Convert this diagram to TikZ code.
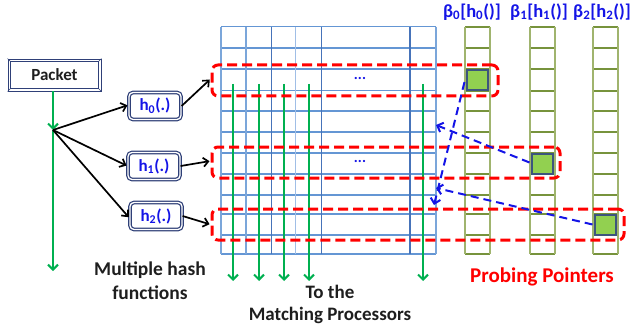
\documentclass[tikz,border=0pt]{standalone}
\usepackage{fontspec}
\setmainfont{Carlito}
\usetikzlibrary{arrows.meta}
\definecolor{navy}{RGB}{47,64,120}
\definecolor{gridblue}{RGB}{100,150,212}
\definecolor{griddark}{RGB}{70,115,185}
\definecolor{gridlight}{RGB}{160,190,230}
\definecolor{olive}{RGB}{119,147,60}
\definecolor{olivelt}{RGB}{160,180,110}
\definecolor{cellgreen}{RGB}{146,208,80}
\definecolor{cellborder}{RGB}{60,85,125}
\definecolor{arrgreen}{RGB}{0,176,80}
\definecolor{txtblue}{RGB}{20,20,230}
\definecolor{pred}{RGB}{255,0,0}
\definecolor{txtdark}{RGB}{30,30,30}
\begin{document}
\begin{tikzpicture}[x=1pt,y=-1pt,
  hbox/.style={draw=navy, line width=1.2pt, double=white, double distance=1.3pt,
    rounded corners=4pt, minimum width=52pt, minimum height=27pt, inner sep=0pt,
    text=txtblue, font=\fontsize{17}{19}\selectfont\bfseries},
  pktbox/.style={draw=navy, line width=0.9pt, minimum width=93pt, minimum height=32pt,
    inner sep=0pt, text=txtdark, font=\fontsize{17}{19}\selectfont\bfseries},
  blk/.style={draw=black, line width=1.7pt, shorten >=1pt,
    -{Straight Barb[length=5pt,width=9pt,line width=1.7pt]}},
  garr/.style={draw=arrgreen, line width=2pt,
    -{Straight Barb[length=5pt,width=10pt,line width=2pt]}},
  gline/.style={draw=gridblue, line width=1.4pt},
  redbox/.style={draw=pred, line width=3pt, dash pattern=on 10pt off 5pt,
    rounded corners=6pt, inner sep=0pt},
  colh/.style={draw=olive, line width=2pt},
  colv/.style={draw=olivelt, line width=1.8pt},
  cell/.style={draw=cellborder, fill=cellgreen, line width=2pt, minimum width=21pt,
    minimum height=20pt, inner sep=0pt},
  bdash/.style={draw=txtblue, line width=2pt, dash pattern=on 8pt off 5pt,
    -{Straight Barb[length=5pt,width=10pt,line width=2pt]}},
  blab/.style={text=txtblue, font=\fontsize{18.5}{20}\selectfont\bfseries, inner sep=0pt},
  dots/.style={text=txtblue, font=\fontsize{15}{16}\selectfont\bfseries, inner sep=0pt},
  caption/.style={text=txtdark, font=\fontsize{19.5}{24}\selectfont\bfseries, align=center, inner sep=0pt},
  caption2/.style={text=txtdark, font=\fontsize{19}{22}\selectfont\bfseries, align=center, inner sep=0pt},
]
\useasboundingbox (0,0) rectangle (630,329);

% ---------- grid ----------
\foreach \y in {26.7,48,69,90.7,111,132,153,174,195,214,235,254}
  \draw[gline] (221,\y) -- (436,\y);
\foreach \x in {221,246,436}
  \draw[gline, draw=gridblue!85] (\x,26.7) -- (\x,254);
\draw[gline, draw=gridlight] (295.5,26.7) -- (295.5,254);
\foreach \x in {271.5,321.5,410}
  \draw[gline, draw=griddark, line width=1.7pt] (\x,26.7) -- (\x,254);

% ---------- bucket columns ----------
\foreach \cx in {465,530,593}{
  \foreach \y in {26.7,48,69,90.7,111,132,153,174,195,214,235,254}
    \draw[colh] (\cx,\y) -- (\cx+25,\y);
  \draw[colv] (\cx,26.7) -- (\cx,254);
  \draw[colv] (\cx+25,26.7) -- (\cx+25,254);
}
\node[cell] (c0) at (477,80) {};
\node[cell] (c1) at (542,163.5) {};
\node[cell] (c2) at (605,224.5) {};

% ---------- labels over columns ----------
\node[blab] (b0) at (472,12) {β\textsubscript{0}[h\textsubscript{0}()]};
\node[blab] (b1) at (539,12) {β\textsubscript{1}[h\textsubscript{1}()]};
\node[blab] (b2) at (602,12) {β\textsubscript{2}[h\textsubscript{2}()]};

% ---------- green output arrows ----------
\foreach \x [count=\i] in {233,259,284,309,423}{
  \coordinate (gs\i) at (\x,84);
  \coordinate (ge\i) at (\x,281);
  \draw[garr] (gs\i) -- (ge\i);
}

% ---------- red dashed probing boxes ----------
\node[redbox, minimum width=286pt, minimum height=31pt] (r0) at (355,80.5) {};
\node[redbox, minimum width=348pt, minimum height=31pt] (r1) at (386,162.5) {};
\node[redbox, minimum width=412pt, minimum height=31pt] (r2) at (418,224.5) {};

\node[dots] (d0) at (360,78) {...};
\node[dots] (d1) at (360,161) {...};

% ---------- packet and hash functions ----------
\node[pktbox] (packet) at (54.5,75) {Packet};
\draw[navy, line width=0.9pt] ([shift={(3,3)}]packet.north west) rectangle ([shift={(-3,-3)}]packet.south east);
\draw[navy, line width=0.7pt] (packet.north west) -- ([shift={(3,3)}]packet.north west)
  (packet.north east) -- ([shift={(-3,3)}]packet.north east)
  (packet.south west) -- ([shift={(3,-3)}]packet.south west)
  (packet.south east) -- ([shift={(-3,-3)}]packet.south east);

\node[hbox] (h0) at (155,106) {h\textsubscript{0}(.)};
\node[hbox] (h1) at (154,166) {h\textsubscript{1}(.)};
\node[hbox] (h2) at (156,216) {h\textsubscript{2}(.)};

\coordinate (split) at (53,130);
\coordinate (pend) at (53,271);
\draw[garr] (packet.south -| split) -- (split);
\draw[garr] (split) -- (pend);

\draw[blk] (split) -- ([yshift=1pt]h0.west);
\draw[blk] (split) -- (h1.west);
\draw[blk] (split) -- ([yshift=-2pt]h2.west);

\draw[blk] (h0.east) -- ([yshift=1.5pt]r0.west);
\draw[blk] (h1.east) -- ([yshift=1.5pt]r1.west);
\draw[blk] (h2.east) -- (r2.west);

% ---------- probing pointers ----------
\coordinate (p0) at (434,205);
\coordinate (p1) at (436,125);
\coordinate (p2) at (436,188);
\draw[bdash] ([shift={(-1,2)}]c0.west) -- (p0);
\draw[bdash] ([shift={(-1,-1)}]c1.west) -- (p1);
\draw[bdash] ([shift={(-1,0)}]c2.west) -- (p2);

% ---------- captions ----------
\node[caption] (mh) at (150,281) {Multiple hash\\functions};
\node[caption2] (tm) at (330,304) {To the\\Matching Processors};
\node[caption, text=pred, font=\fontsize{21}{24}\selectfont\bfseries] (pp) at (542,277) {Probing Pointers};
\end{tikzpicture}
\end{document}
